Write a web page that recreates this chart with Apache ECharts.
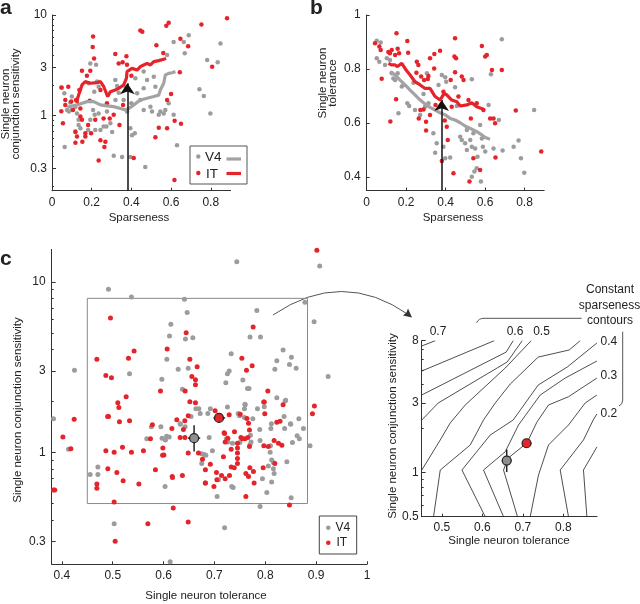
<!DOCTYPE html>
<html><head><meta charset="utf-8">
<script src="https://cdn.jsdelivr.net/npm/echarts@6/dist/echarts.min.js"></script>
<style>html,body{margin:0;padding:0;background:#fff}#c{width:640px;height:604px}</style>
</head><body><div id="c"></div>
<script>
// ---------- Panel a: sparseness vs conjunction sensitivity ----------
const aV4 = [[0.05,1.9],[0.064,0.49],[0.062,1.67],[0.076,1.14],[0.085,1.1],[0.1,1.14],[0.118,1.23],[0.126,1.05],[0.134,0.91],[0.143,0.75],[0.134,0.81],[0.118,0.7],[0.185,2.1],[0.193,3.3],[0.222,3.2],[0.227,2.18],[0.235,1.94],[0.213,1.73],[0.207,1.14],[0.215,1.02],[0.235,1.05],[0.193,0.91],[0.182,0.72],[0.218,0.72],[0.244,0.72],[0.274,0.78],[0.294,0.84],[0.303,0.69],[0.26,0.78],[0.277,1.1],[0.311,0.4],[0.353,0.39],[0.395,0.39],[0.47,0.31],[0.403,0.64],[0.417,0.67],[0.395,0.75],[0.378,1.1],[0.4,1.33],[0.429,1.67],[0.462,1.87],[0.479,2.26],[0.513,2.44],[0.521,1.94],[0.445,1.43],[0.462,1.14],[0.496,1.23],[0.504,1.1],[0.538,1.02],[0.546,1.1],[0.563,1.05],[0.571,1.14],[0.588,1.33],[0.613,1.02],[0.63,0.51],[0.58,4.0],[0.613,5.4],[0.664,5.4],[0.689,6.3],[0.669,4.16],[0.782,3.57],[0.835,3.39],[0.849,5.2],[0.743,1.83],[0.765,1.57],[0.798,1.05],[0.328,1.97],[0.336,1.69],[0.361,1.43],[0.32,1.43],[0.42,2.35],[0.462,2.74],[0.37,1.94],[0.319,2.26],[0.1,1.55],[0.092,1.35]];
const aIT = [[0.882,9.3],[0.753,8.07],[0.588,8.4],[0.576,7.8],[0.445,7.0],[0.455,6.8],[0.207,6.1],[0.205,4.8],[0.647,5.8],[0.526,5.0],[0.686,4.9],[0.319,4.1],[0.212,3.7],[0.375,3.9],[0.561,4.2],[0.356,3.4],[0.336,3.3],[0.151,2.8],[0.193,2.8],[0.378,3.2],[0.807,3.07],[0.644,2.7],[0.4,2.5],[0.176,2.5],[0.082,1.94],[0.047,1.91],[0.138,1.8],[0.244,1.8],[0.067,1.43],[0.097,1.38],[0.067,1.28],[0.121,1.43],[0.19,1.41],[0.277,1.33],[0.6,1.64],[0.58,1.43],[0.047,1.11],[0.106,1.14],[0.143,1.18],[0.055,0.84],[0.143,0.98],[0.151,0.91],[0.182,0.81],[0.218,0.91],[0.26,0.94],[0.291,0.94],[0.34,0.81],[0.311,1.02],[0.358,1.28],[0.118,0.69],[0.126,0.62],[0.168,0.67],[0.168,0.62],[0.118,0.54],[0.153,0.55],[0.197,0.67],[0.244,0.57],[0.269,0.55],[0.264,0.49],[0.538,0.76],[0.58,0.75],[0.618,0.89],[0.65,0.83],[0.521,0.61],[0.412,0.38],[0.235,0.36],[0.617,0.23]];
const aV4Line = [[0.076,1.21],[0.126,1.28],[0.176,1.38],[0.21,1.38],[0.244,1.28],[0.277,1.25],[0.311,1.23],[0.345,1.18],[0.37,1.14],[0.387,1.18],[0.412,1.28],[0.445,1.43],[0.479,1.49],[0.513,1.55],[0.538,1.6],[0.546,1.8],[0.563,2.1],[0.571,2.54],[0.588,2.63],[0.605,2.67],[0.622,2.74]];
const aITLine = [[0.126,1.33],[0.129,1.49],[0.134,1.6],[0.143,1.8],[0.151,2.02],[0.168,2.18],[0.193,2.1],[0.227,2.13],[0.244,2.18],[0.261,1.94],[0.274,1.67],[0.281,1.55],[0.294,1.73],[0.319,1.8],[0.336,1.87],[0.361,2.02],[0.37,2.1],[0.375,2.35],[0.378,2.74],[0.403,2.95],[0.429,2.84],[0.445,3.07],[0.462,3.19],[0.479,3.31],[0.496,3.19],[0.513,3.44],[0.538,3.52],[0.563,3.63],[0.575,3.71]];
const aArrow = [0.38, 2.1];

// ---------- Panel b: sparseness vs tolerance ----------
const bV4 = [[0.051,0.84],[0.051,0.905],[0.071,0.898],[0.064,0.827],[0.093,0.815],[0.102,0.84],[0.118,0.833],[0.127,0.784],[0.135,0.765],[0.144,0.759],[0.157,0.784],[0.161,0.636],[0.178,0.735],[0.186,0.741],[0.206,0.673],[0.215,0.663],[0.237,0.749],[0.245,0.648],[0.271,0.63],[0.296,0.66],[0.288,0.707],[0.305,0.784],[0.313,0.673],[0.338,0.562],[0.355,0.525],[0.347,0.49],[0.364,0.741],[0.381,0.778],[0.398,0.769],[0.403,0.753],[0.398,0.469],[0.389,0.512],[0.423,0.472],[0.448,0.732],[0.457,0.663],[0.474,0.549],[0.482,0.537],[0.499,0.525],[0.508,0.5],[0.525,0.537],[0.533,0.762],[0.533,0.512],[0.541,0.562],[0.55,0.506],[0.562,0.475],[0.558,0.432],[0.546,0.42],[0.533,0.401],[0.579,0.383],[0.584,0.543],[0.589,0.512],[0.601,0.494],[0.618,0.667],[0.63,0.781],[0.643,0.506],[0.67,0.611],[0.685,0.91],[0.689,0.498],[0.745,0.512],[0.77,0.535],[0.782,0.469],[0.799,0.416],[0.849,0.648],[0.575,0.593],[0.508,0.574]];
const bIT = [[0.151,0.932],[0.206,0.904],[0.042,0.895],[0.064,0.883],[0.071,0.87],[0.076,0.764],[0.11,0.863],[0.127,0.87],[0.118,0.858],[0.144,0.852],[0.157,0.875],[0.164,0.858],[0.21,0.86],[0.12,0.606],[0.149,0.688],[0.254,0.827],[0.262,0.815],[0.252,0.786],[0.276,0.772],[0.291,0.759],[0.31,0.763],[0.313,0.774],[0.321,0.84],[0.343,0.856],[0.372,0.868],[0.342,0.802],[0.264,0.617],[0.272,0.648],[0.288,0.65],[0.301,0.605],[0.301,0.572],[0.321,0.63],[0.349,0.667],[0.396,0.609],[0.406,0.586],[0.411,0.537],[0.381,0.459],[0.44,0.414],[0.445,0.846],[0.448,0.914],[0.453,0.84],[0.448,0.788],[0.426,0.759],[0.482,0.772],[0.491,0.759],[0.465,0.698],[0.516,0.685],[0.528,0.617],[0.541,0.469],[0.521,0.383],[0.575,0.426],[0.584,0.885],[0.601,0.846],[0.609,0.852],[0.635,0.796],[0.626,0.617],[0.643,0.617],[0.651,0.599],[0.653,0.472],[0.685,0.796],[0.756,0.646],[0.885,0.494],[0.389,0.716],[0.431,0.66],[0.558,0.673],[0.592,0.648]];
const bV4Line = [[0.118,0.79],[0.144,0.778],[0.169,0.759],[0.195,0.741],[0.22,0.722],[0.245,0.704],[0.271,0.685],[0.296,0.67],[0.321,0.658],[0.347,0.648],[0.372,0.638],[0.398,0.63],[0.423,0.617],[0.448,0.611],[0.474,0.601],[0.499,0.589],[0.525,0.58],[0.541,0.574],[0.558,0.568],[0.584,0.556],[0.601,0.546],[0.625,0.54]];
const bITLine = [[0.11,0.821],[0.127,0.815],[0.144,0.815],[0.156,0.809],[0.178,0.821],[0.2,0.796],[0.22,0.778],[0.245,0.753],[0.271,0.741],[0.296,0.728],[0.321,0.728],[0.347,0.698],[0.372,0.685],[0.393,0.71],[0.406,0.704],[0.431,0.685],[0.457,0.679],[0.474,0.663],[0.508,0.667],[0.533,0.675],[0.558,0.66],[0.592,0.651]];
const bArrow = [0.38, 0.685];

// ---------- Panel c: tolerance vs conjunction sensitivity ----------
const cV4 = [[0.4916,9.05],[0.5368,8.15],[0.641,7.9],[0.6464,6.6],[0.6143,5.64],[0.6116,4.81],[0.643,4.62],[0.6575,4.69],[0.6064,3.51],[0.4248,3.03],[0.533,2.89],[0.6287,3.07],[0.6484,3.11],[0.5966,2.68],[0.637,2.34],
[0.744,13.1],[0.907,12.4],[0.878,7.59],[0.7834,6.78],[0.896,5.84],[0.77,4.75],[0.7905,4.75],[0.7329,3.79],[0.835,3.98],[0.8514,3.61],[0.8227,3.44],[0.8475,3.27],[0.8607,3.11],[0.8188,3.07],[0.729,3.0],[0.7256,2.89],[0.7224,2.56],[0.7559,2.65],[0.765,2.37],[0.768,2.37],[0.9236,2.78],[0.8227,2.09],[0.84,2.02],[0.76,1.91],
[0.3835,1.57],[0.413,1.04],[0.4556,0.74],[0.4708,0.82],[0.4708,0.74],[0.5947,1.41],[0.567,1.2],[0.6037,1.18],[0.611,1.23],[0.6326,1.47],[0.6424,1.41],[0.6635,1.8],[0.6694,1.8],[0.672,1.69],[0.675,0.98],[0.68,0.97],[0.675,0.86],[0.603,0.63],[0.5028,0.38],[0.6129,0.228],
[0.692,1.8],[0.7256,1.84],[0.687,1.69],[0.7604,1.9],[0.759,1.8],[0.7846,1.8],[0.798,1.85],[0.839,2.0],[0.7467,1.69],[0.7493,1.64],[0.759,1.6],[0.7755,1.57],[0.837,1.62],[0.812,1.47],[0.8495,1.47],[0.866,1.57],[0.875,1.38],[0.8626,1.25],[0.867,1.2],[0.8534,1.14],[0.888,1.09],[0.7354,1.13],[0.7264,1.15],[0.7708,1.26],[0.772,1.15],[0.7898,1.17],[0.8102,1.09],[0.8096,1.0],[0.8125,0.9],[0.816,0.87],[0.8424,0.88],[0.806,0.83],[0.816,0.8],[0.8174,0.75],[0.8125,0.67],[0.7944,0.7],[0.803,0.58],[0.7898,0.48],[0.8509,0.54],[0.7368,0.62],[0.7053,0.55],[0.72,0.36],[0.708,0.69],[0.6896,1.22],[0.696,1.02],[0.7237,1.2],
[0.633,1.46],[0.654,1.62],[0.683,0.96],[0.85,1.46],[0.811,1.38],[0.789,1.36],[0.838,1.38],[0.75,1.14],[0.77,1.11],[0.734,0.63],[0.576,1.41],[0.597,1.21],[0.606,1.24]];
const cIT = [[0.4956,6.14],[0.6444,5.03],[0.607,4.04],[0.542,3.93],[0.4688,3.51],[0.531,3.56],[0.6517,3.51],[0.666,3.18],[0.4865,2.82],[0.4975,2.74],[0.6556,2.78],[0.6627,2.66],[0.6627,2.49],[0.5939,2.29],[0.6424,2.29],[0.5264,2.12],[0.51,1.95],[0.6517,1.98],[0.6627,1.95],
[0.9014,15.3],[0.7761,5.43],[0.7539,3.56],[0.7742,3.22],[0.763,3.03],[0.805,2.29],[0.797,1.97],
[0.512,1.83],[0.4242,1.56],[0.4917,1.62],[0.5133,1.51],[0.533,1.53],[0.402,1.23],[0.4177,1.05],[0.3835,0.6],[0.386,0.6],[0.4688,0.65],[0.4688,0.615],[0.4865,1.02],[0.5028,1.0],[0.5192,1.07],[0.5368,1.0],[0.5604,1.02],[0.4904,0.8],[0.5081,0.76],[0.5205,0.68],[0.5514,0.65],[0.584,0.79],[0.578,1.45],[0.5742,1.2],[0.5986,1.06],[0.6006,0.965],[0.626,1.55],[0.6163,1.38],[0.639,1.36],[0.6418,1.53],[0.6484,1.64],[0.6326,1.22],[0.642,1.22],[0.6484,0.99],[0.6686,0.99],[0.6765,0.91],[0.6823,0.79],[0.6823,0.66],[0.637,0.73],[0.6175,0.71],[0.5028,0.51],[0.619,0.47],[0.5691,0.38],[0.6484,0.39],[0.5048,0.3],
[0.7014,1.75],[0.835,1.9],[0.8966,1.87],[0.8927,1.68],[0.729,1.66],[0.7507,1.67],[0.767,1.48],[0.799,1.68],[0.8227,1.5],[0.829,1.52],[0.7689,1.35],[0.719,1.3],[0.7264,1.21],[0.7394,1.32],[0.7453,1.13],[0.7453,1.06],[0.7453,0.99],[0.7453,0.92],[0.7453,0.86],[0.752,1.22],[0.755,1.2],[0.76,1.2],[0.7657,1.22],[0.7689,1.08],[0.7971,1.09],[0.806,1.08],[0.8174,1.17],[0.8259,1.13],[0.8326,1.1],[0.8188,0.86],[0.7958,0.81],[0.8475,0.49],[0.778,0.66],[0.7696,0.81],[0.7767,0.77],[0.7618,0.75],[0.767,0.72],[0.7618,0.55],[0.699,0.63],[0.7048,0.69],[0.7211,0.7],[0.7296,0.73],[0.704,0.76],[0.7329,0.82],[0.739,0.81],[0.7177,0.94],[0.7211,1.15],[0.7329,1.04],[0.72,1.29],
[0.764,1.58],[0.692,0.85],[0.714,0.73],[0.682,0.66],[0.617,0.72],[0.598,0.96],[0.49,1.62],[0.798,1.97]];

// population means (V4, IT) with error bars
const meanNames = ['V4', 'IT'];
const meanTol = [0.66, 0.709];
const meanConj = [1.21, 1.59];
const tolLo = [0.648, 0.698];
const tolHi = [0.672, 0.721];
const conjLo = [1.01, 1.49];
const conjHi = [1.44, 1.69];

// zoom box shown in panel c (tolerance range, conjunction range)
const boxTol = [0.45, 0.883];
const boxConj = [0.5, 8];

// ---------- Inset: constant sparseness contours ----------
const contourLevels = [0.7, 0.65, 0.6, 0.55, 0.5, 0.45, 0.4, 0.35, 0.3, 0.25, 0.2, 0.15];
const contourLines = [
  [[0.45,7.36],[0.4835,8]],
  [[0.45,4.96],[0.6291,8]],
  [[0.45,3.40],[0.6588,6.69],[0.676,8]],
  [[0.45,2.29],[0.4909,3.0],[0.6612,5.72],[0.6983,8]],
  [[0.45,1.04],[0.4958,1.674],[0.5205,2.19],[0.5575,2.905],[0.6563,5.2],[0.7205,8]],
  [[0.4793,0.5],[0.4958,1.043],[0.5699,1.547],[0.6027,2.294],[0.6316,2.997],[0.6686,4.04],[0.7378,6.18],[0.8143,6.91],[0.8415,8]],
  [[0.6069,0.5],[0.5494,1.043],[0.6193,1.811],[0.676,2.294],[0.7378,3.98],[0.8094,5.28],[0.8827,7.71]],
  [[0.6521,0.5],[0.6027,1.043],[0.6563,1.39],[0.6891,2.12],[0.7427,3.40],[0.8044,4.44],[0.8827,5.81]],
  [[0.6867,0.5],[0.6521,1.043],[0.6637,1.26],[0.7099,1.597],[0.7346,2.22],[0.7632,2.905],[0.8126,3.31],[0.8827,4.44]],
  [[0.718,0.5],[0.7385,0.964],[0.7632,1.547],[0.8126,2.12],[0.8538,2.997],[0.8827,3.40]],
  [[0.8126,0.5],[0.7921,1.043],[0.8496,1.674],[0.8736,2.294],[0.8827,2.52]],
  [[0.858,0.5],[0.8496,1.043],[0.8827,1.50]]
];
const contourLabels = ['0.7','0.6','0.5','0.4','0.3','0.2'];

// ---------- Axis ticks ----------
const aXTicks = [0, 0.2, 0.4, 0.6, 0.8];
const aYTicks = [0.3, 1, 3, 10];
const aYMinor = [0.2,0.4,0.5,0.6,0.7,0.8,0.9,2,4,5,6,7,8,9];
const bYTicks = [0.4, 0.6, 0.8, 1];
const cXTicks = [0.4, 0.5, 0.6, 0.7, 0.8, 0.9, 1.0];
const cYTicks = [0.3, 1, 3, 10];
const cYMinor = [0.3,0.4,0.5,0.6,0.7,0.8,0.9,2,4,5,6,7,8,9];
const dXTicks = [0.5, 0.6, 0.7, 0.8];
const dYTicks = [0.5, 1, 3, 8];
const dYMinor = [0.6,0.7,0.8,0.9,2,4,5,6,7];

// ---------- Build chart ----------
const FONT = '"Liberation Sans", Arial, Helvetica, sans-serif';
const RED = '#e5232a', GRAY = '#9c9c9c', GRAYLINE = '#a3a3a3', AX = '#333';
const L = v => Math.log10(v);
const logPts = arr => arr.map(p => [p[0], L(p[1])]);
const fmtLog = v => String(+Math.pow(10, v).toPrecision(2));

function xAxisDef(grid, min, max, ticks, margin) {
  return { gridIndex: grid, type: 'value', min, max, position: 'bottom',
    axisLine: { show: true, onZero: false, lineStyle: { color: AX, width: 1 } },
    axisTick: { show: true, inside: true, length: 3, customValues: ticks, lineStyle: { color: AX } },
    axisLabel: { show: true, customValues: ticks, margin, color: '#222', fontSize: 12, fontFamily: FONT },
    splitLine: { show: false } };
}
function yLogDefs(grid, min, max, majors, minors, margin) {
  return [
    { gridIndex: grid, type: 'value', min: L(min), max: L(max), position: 'left',
      axisLine: { show: true, onZero: false, lineStyle: { color: AX, width: 1 } },
      axisTick: { show: true, inside: true, length: 4, customValues: majors.map(L), lineStyle: { color: AX } },
      axisLabel: { show: true, customValues: majors.map(L), formatter: fmtLog, margin, color: '#222', fontSize: 12, fontFamily: FONT },
      splitLine: { show: false } },
    { gridIndex: grid, type: 'value', min: L(min), max: L(max), position: 'left', offset: 0,
      axisLine: { show: false, onZero: false },
      axisTick: { show: true, inside: true, length: 2, customValues: minors.map(L), lineStyle: { color: AX } },
      axisLabel: { show: false }, splitLine: { show: false } }
  ];
}

const grids = [
  { left: 52, top: 15, width: 178.6, height: 175.7 },
  { left: 366.7, top: 15, width: 177.5, height: 175.5 },
  { left: 51.7, top: 249.4, width: 315.3, height: 314.9 },
  { left: 421.7, top: 340.7, width: 175.3, height: 176 }
].map(g => Object.assign({ containLabel: false, outerBoundsMode: 'none', show: false }, g));

const xAxes = [
  xAxisDef(0, 0, 0.9, aXTicks, 6),
  xAxisDef(1, 0, 0.9, aXTicks, 6),
  xAxisDef(2, 0.38, 1.0, cXTicks, 5),
  xAxisDef(3, 0.45, 0.883, dXTicks, 5)
];
const yAxes = [
  ...yLogDefs(0, 0.18, 10, aYTicks, aYMinor, 5),
  { gridIndex: 1, type: 'value', min: 0.35, max: 1, position: 'left',
    axisLine: { show: true, onZero: false, lineStyle: { color: AX, width: 1 } },
    axisTick: { show: true, inside: true, length: 3, customValues: bYTicks, lineStyle: { color: AX } },
    axisLabel: { show: true, customValues: bYTicks, margin: 6, color: '#222', fontSize: 12, fontFamily: FONT },
    splitLine: { show: false } },
  ...yLogDefs(2, 0.22, 15.5, cYTicks, cYMinor, 6),
  ...yLogDefs(3, 0.5, 8, dYTicks, dYMinor, 3)
];

function scatter(name, x, y, data, color, size, z) {
  return { name, type: 'scatter', xAxisIndex: x, yAxisIndex: y, data, symbolSize: size, z: z || 2,
    itemStyle: { color, opacity: 1 }, silent: true };
}
function line(name, x, y, data, color, width, z) {
  return { name, type: 'line', xAxisIndex: x, yAxisIndex: y, data, showSymbol: false, symbol: 'none', z: z || 3,
    lineStyle: { color, width }, silent: true };
}
function arrowSeries(x, y, ptX, yMin, yMax) {
  return { type: 'line', xAxisIndex: x, yAxisIndex: y, data: [[ptX, yMax]], symbol: 'none', showSymbol: false, z: 10,
    lineStyle: { width: 0 },
    markLine: { silent: true, symbol: ['none', 'arrow'], symbolSize: 11, animation: false,
      lineStyle: { color: '#111', width: 1.5, type: 'solid' }, label: { show: false },
      itemStyle: { color: '#111' },
      data: [[{ coord: [ptX, yMin] }, { coord: [ptX, yMax] }]] } };
}
const meanData = meanNames.map((n, i) => [meanTol[i], L(meanConj[i]), tolLo[i], tolHi[i], L(conjLo[i]), L(conjHi[i])]);
function errSeries(x, y) {
  return { type: 'custom', xAxisIndex: x, yAxisIndex: y, z: 8, silent: true, data: meanData,
    renderItem: (params, api) => {
      const xv = api.value(0), yv = api.value(1);
      const a = api.coord([api.value(2), yv]), b = api.coord([api.value(3), yv]);
      const c = api.coord([xv, api.value(4)]), d = api.coord([xv, api.value(5)]);
      const st = { stroke: '#222', lineWidth: 1.5 };
      return { type: 'group', children: [
        { type: 'line', shape: { x1: a[0], y1: a[1], x2: b[0], y2: b[1] }, style: st },
        { type: 'line', shape: { x1: c[0], y1: c[1], x2: d[0], y2: d[1] }, style: st }
      ] };
    } };
}
function meanMarkers(x, y) {
  return meanNames.map((n, i) => ({ type: 'scatter', xAxisIndex: x, yAxisIndex: y, z: 9, silent: true,
    data: [[meanTol[i], L(meanConj[i])]], symbolSize: 9,
    itemStyle: { color: i === 0 ? '#8f8f8f' : RED, borderColor: '#222', borderWidth: 1.2, opacity: 1 } }));
}

const series = [
  // panel a
  scatter('V4', 0, 0, logPts(aV4), GRAY, 4.5, 2),
  scatter('IT', 0, 0, logPts(aIT), RED, 4.5, 2),
  line('V4 avg', 0, 0, logPts(aV4Line), GRAYLINE, 3.2, 4),
  line('IT avg', 0, 0, logPts(aITLine), RED, 3.2, 5),
  arrowSeries(0, 0, aArrow[0], L(0.18), L(aArrow[1])),
  // panel b
  scatter('V4', 1, 2, bV4, GRAY, 4.5, 2),
  scatter('IT', 1, 2, bIT, RED, 4.5, 2),
  line('V4 avg', 1, 2, bV4Line, GRAYLINE, 3.2, 4),
  line('IT avg', 1, 2, bITLine, RED, 3.2, 5),
  arrowSeries(1, 2, bArrow[0], 0.35, bArrow[1]),
  // panel c
  Object.assign(scatter('V4', 2, 3, logPts(cV4), GRAY, 5, 2), {
    markArea: { silent: true, itemStyle: { color: 'rgba(0,0,0,0)', borderColor: '#8a8a8a', borderWidth: 1 },
      data: [[{ coord: [boxTol[0], L(boxConj[1])] }, { coord: [boxTol[1], L(boxConj[0])] }]] } }),
  scatter('IT', 2, 3, logPts(cIT), RED, 5, 3),
  errSeries(2, 3),
  ...meanMarkers(2, 3),
  // inset contours
  ...contourLines.map((pts, i) => ({ name: 'S=' + contourLevels[i], type: 'line', xAxisIndex: 3, yAxisIndex: 5,
    data: logPts(pts), showSymbol: false, symbol: 'none', silent: true, z: 3,
    lineStyle: { color: '#222', width: 0.8 } })),
  errSeries(3, 5),
  ...meanMarkers(3, 5)
];

const T = (text, x, y, opt) => Object.assign({ type: 'text', x, y, silent: true,
  style: Object.assign({ text, fill: '#222', font: '11.5px ' + FONT, align: 'center', verticalAlign: 'middle' }, (opt && opt.style) || {}) },
  opt && opt.rotation ? { rotation: opt.rotation } : {});
const R90 = Math.PI / 2;
const graphics = [
  // panel letters
  T('a', 0, 8, { style: { font: 'bold 21px ' + FONT, align: 'left' } }),
  T('b', 310, 8, { style: { font: 'bold 21px ' + FONT, align: 'left' } }),
  T('c', 0, 259, { style: { font: 'bold 21px ' + FONT, align: 'left' } }),
  // axis titles
  T('Sparseness', 139, 218),
  T('Single neuron\nconjunction sensitivity', 10.5, 104, { rotation: R90, style: { lineHeight: 10 } }),
  T('Sparseness', 453, 218),
  T('Single neuron\ntolerance', 328, 83, { rotation: R90, style: { lineHeight: 10 } }),
  T('Single neuron tolerance', 206, 596),
  T('Single neuron conjunction sensitivity', 17.5, 410, { rotation: R90 }),
  T('Single neuron tolerance', 509, 541),
  T('Single neuron conjunction sensitivity', 393, 426, { rotation: R90 }),
  // panel a legend
  { type: 'rect', shape: { x: 190, y: 146, width: 57, height: 38 }, style: { fill: '#fff', stroke: '#555', lineWidth: 1 }, z: 20, silent: true },
  { type: 'circle', shape: { cx: 198.3, cy: 156.5, r: 2.2 }, style: { fill: GRAY }, z: 21, silent: true },
  Object.assign(T('V4', 205, 157, { style: { font: '13.5px ' + FONT, align: 'left' } }), { z: 21 }),
  { type: 'line', shape: { x1: 226.5, y1: 159, x2: 241, y2: 159 }, style: { stroke: GRAYLINE, lineWidth: 3.2 }, z: 21, silent: true },
  { type: 'circle', shape: { cx: 198.3, cy: 173, r: 2.2 }, style: { fill: RED }, z: 21, silent: true },
  Object.assign(T('IT', 206, 174, { style: { font: '13.5px ' + FONT, align: 'left' } }), { z: 21 }),
  { type: 'line', shape: { x1: 226.5, y1: 173.5, x2: 241, y2: 173.5 }, style: { stroke: RED, lineWidth: 3.2 }, z: 21, silent: true },
  // panel c legend
  { type: 'rect', shape: { x: 319.3, y: 516, width: 37.4, height: 38 }, style: { fill: '#fff', stroke: '#444', lineWidth: 1 }, z: 20, silent: true },
  { type: 'circle', shape: { cx: 328.3, cy: 527.7, r: 2.3 }, style: { fill: GRAY }, z: 21, silent: true },
  Object.assign(T('V4', 335.5, 528, { style: { font: '12px ' + FONT, align: 'left' } }), { z: 21 }),
  { type: 'circle', shape: { cx: 328.3, cy: 542.7, r: 2.3 }, style: { fill: RED }, z: 21, silent: true },
  Object.assign(T('IT', 336.5, 543, { style: { font: '12px ' + FONT, align: 'left' } }), { z: 21 }),
  // curved arrow from box to inset
  { type: 'bezierCurve', shape: { x1: 273, y1: 315, x2: 409, y2: 315, cpx1: 342, cpy1: 268 }, style: { stroke: '#555', lineWidth: 1, fill: null }, silent: true },
  { type: 'polygon', shape: { points: [[412, 317.5], [403, 315.5], [406.5, 312.5], [408, 308.5]] }, style: { fill: '#333' }, silent: true },
  // contour labels
  T(contourLabels[0], 438, 332, { style: { font: '12px ' + FONT } }),
  T(contourLabels[1], 515, 332, { style: { font: '12px ' + FONT } }),
  T(contourLabels[2], 541.5, 332, { style: { font: '12px ' + FONT } }),
  T(contourLabels[3], 600.5, 342, { style: { font: '12px ' + FONT, align: 'left' } }),
  T(contourLabels[4], 600.5, 376, { style: { font: '12px ' + FONT, align: 'left' } }),
  T(contourLabels[5], 600.5, 414, { style: { font: '12px ' + FONT, align: 'left' } }),
  // bracket + annotation
  T('Constant', 610, 290, { style: { font: '12px ' + FONT } }),
  T('sparseness', 609.5, 305.5, { style: { font: '12px ' + FONT } }),
  T('contours', 610, 321, { style: { font: '12px ' + FONT } }),
  { type: 'bezierCurve', shape: { x1: 476.7, y1: 322.7, x2: 484, y2: 318.3, cpx1: 478.5, cpy1: 318.3 }, style: { stroke: '#444', lineWidth: 0.9, fill: null }, silent: true },
  { type: 'line', shape: { x1: 484, y1: 318.3, x2: 581.7, y2: 318.3 }, style: { stroke: '#444', lineWidth: 0.9 }, silent: true },
  { type: 'line', shape: { x1: 622.7, y1: 331.7, x2: 622.7, y2: 400 }, style: { stroke: '#444', lineWidth: 0.9 }, silent: true },
  { type: 'bezierCurve', shape: { x1: 622.7, y1: 400, x2: 619, y2: 406, cpx1: 622.7, cpy1: 404.5 }, style: { stroke: '#444', lineWidth: 0.9, fill: null }, silent: true }
];

const chart = echarts.init(document.getElementById('c'), null, { renderer: 'canvas', width: 640, height: 604 });
chart.setOption({
  animation: false,
  backgroundColor: '#fff',
  textStyle: { fontFamily: FONT },
  grid: grids,
  xAxis: xAxes,
  yAxis: yAxes,
  series,
  graphic: { elements: graphics }
});
</script></body></html>
